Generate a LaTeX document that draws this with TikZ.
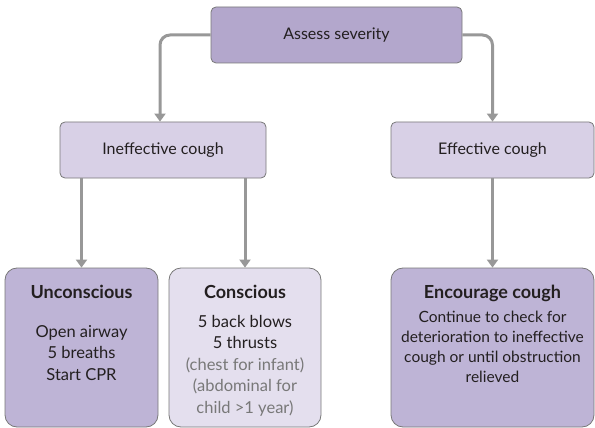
\documentclass[tikz,border=0pt]{standalone}
\usepackage{fontspec}
\setmainfont{Lato}
\usetikzlibrary{arrows.meta}
\definecolor{txt}{RGB}{35,31,32}
\definecolor{grytxt}{RGB}{120,120,120}
\definecolor{arrgray}{RGB}{152,152,152}
\definecolor{bordergray}{RGB}{120,120,120}
\definecolor{purpleA}{RGB}{179,167,204}
\definecolor{purpleL}{RGB}{216,208,230}
\definecolor{purpleM}{RGB}{190,180,214}
\definecolor{purpleXL}{RGB}{228,223,238}
\tikzset{
  topbox/.style={draw=bordergray, line width=0.8pt, rounded corners=5pt, inner sep=0pt, text=txt, font=\fontsize{16}{18}\selectfont},
  botbox/.style={draw=bordergray, line width=0.8pt, rounded corners=12pt, inner sep=0pt},
  title/.style={text=txt, font=\bfseries\fontsize{18}{20}\selectfont, inner sep=0pt, anchor=base},
  body/.style={text=txt, font=\fontsize{16.5}{21.5}\selectfont, align=center, inner sep=0pt, anchor=north},
  arr/.style={draw=arrgray, line width=3pt, rounded corners=10pt, -{Triangle[width=11pt,length=8pt]}},
}
\begin{document}
\begin{tikzpicture}[x=1pt,y=-1pt]
\useasboundingbox (0,0) rectangle (595,428);
\node[topbox, fill=purpleA, minimum width=251pt, minimum height=56pt] (assess) at (336.5,35) {Assess severity};
\node[topbox, fill=purpleL, minimum width=206pt, minimum height=56pt] (ineff) at (163,150) {Ineffective cough};
\node[topbox, fill=purpleL, minimum width=203pt, minimum height=56pt] (eff) at (492.5,150) {Effective cough};
\node[botbox, fill=purpleM, minimum width=153pt, minimum height=159pt] (unc) at (81.5,347.5) {};
\node[botbox, fill=purpleXL, minimum width=152pt, minimum height=159pt] (con) at (245,347.5) {};
\node[botbox, fill=purpleM, minimum width=203pt, minimum height=159pt] (enc) at (492.5,347.5) {};
% texts
\node[title] (unct) at (81.5,298) {Unconscious};
\node[body] (uncb) at (81.5,325) {Open airway\\5 breaths\\Start CPR};
\node[title] (cont) at (245,298) {Conscious};
\node[body] (conb) at (245,315) {5 back blows\\5 thrusts\\\textcolor{grytxt}{(chest for infant)}\\\textcolor{grytxt}{(abdominal for}\\\textcolor{grytxt}{child >1 year)}};
\node[title] (enct) at (492.5,298) {Encourage cough};
\node[body, font=\fontsize{15.5}{20}\selectfont] (encb) at (492.5,311) {Continue to check for\\deterioration to ineffective\\cough or until obstruction\\relieved};
% arrows
\draw[arr] (assess.west) -| ([xshift=-3pt]ineff.north);
\draw[arr] (assess.east) -| (eff.north);
\draw[arr, rounded corners=0pt] (unc.north |- ineff.south) -- (unc.north);
\draw[arr, rounded corners=0pt] (con.north |- ineff.south) -- (con.north);
\draw[arr, rounded corners=0pt] (eff.south) -- (enc.north);
\end{tikzpicture}
\end{document}
